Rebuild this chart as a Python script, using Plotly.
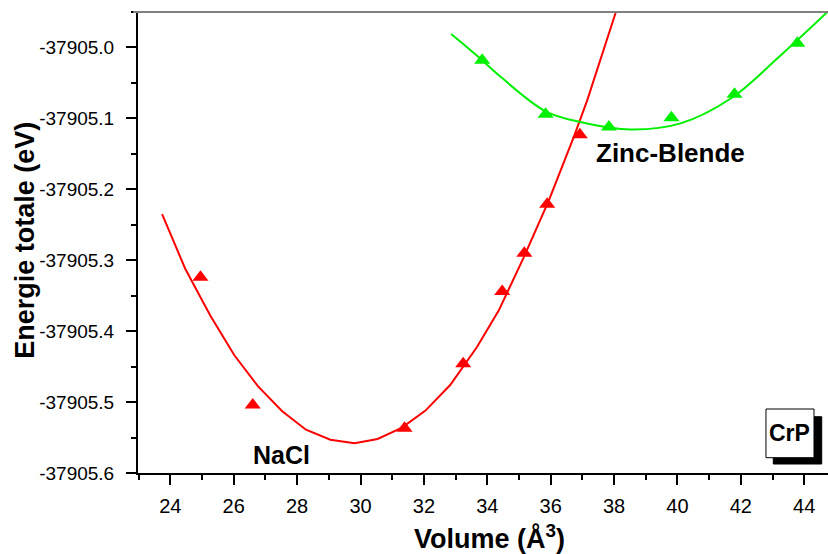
import plotly.graph_objects as go

# NaCl data points (Volume Å^3, Energy eV)
nacl_v = [24.95, 26.60, 31.39, 33.24, 34.47, 35.17, 35.89, 36.92]
nacl_e = [-37905.324, -37905.504, -37905.537, -37905.446, -37905.344, -37905.290, -37905.221, -37905.123]

# NaCl fitted curve
nacl_fit_v = [23.74, 24.47, 25.26, 26.02, 26.77, 27.53, 28.28, 29.05, 29.81, 30.54, 31.31, 32.05,
              32.83, 33.68, 34.36, 35.15, 35.94, 36.73, 37.15, 38.05]
nacl_fit_e = [-37905.235, -37905.312, -37905.378, -37905.434, -37905.478, -37905.513, -37905.539,
              -37905.553, -37905.558, -37905.552, -37905.536, -37905.512, -37905.476, -37905.422,
              -37905.371, -37905.296, -37905.216, -37905.126, -37905.075, -37904.951]

# Zinc-Blende data points
zb_v = [33.84, 35.84, 37.84, 39.81, 41.80, 43.78]
zb_e = [-37905.018, -37905.094, -37905.112, -37905.099, -37905.066, -37904.994]

# Zinc-Blende fitted curve
zb_fit_v = [32.86, 33.79, 34.31, 35.84, 36.94, 38.52, 40.10, 41.68, 43.26, 44.73]
zb_fit_e = [-37904.981, -37905.016, -37905.037, -37905.090, -37905.105, -37905.1156,
            -37905.107, -37905.072, -37905.011, -37904.950]

x_ticks = [24, 26, 28, 30, 32, 34, 36, 38, 40, 42, 44]
y_ticks = [-37905.6, -37905.5, -37905.4, -37905.3, -37905.2, -37905.1, -37905.0]
y_tick_labels = ["-37905.6", "-37905.5", "-37905.4", "-37905.3", "-37905.2", "-37905.1", "-37905.0"]

FONT = "Liberation Sans, Arial, sans-serif"
GREEN = "#00F000"

fig = go.Figure()
fig.add_trace(go.Scatter(x=nacl_fit_v, y=nacl_fit_e, mode="lines",
                         line=dict(color="#FF0000", width=2), showlegend=False))
fig.add_trace(go.Scatter(x=nacl_v, y=nacl_e, mode="markers",
                         marker=dict(symbol="triangle-up", size=14, color="#FF0000"), showlegend=False))
fig.add_trace(go.Scatter(x=zb_fit_v, y=zb_fit_e, mode="lines",
                         line=dict(color=GREEN, width=2, shape="spline"), showlegend=False))
fig.add_trace(go.Scatter(x=zb_v, y=zb_e, mode="markers",
                         marker=dict(symbol="triangle-up", size=14, color=GREEN), showlegend=False))

fig.update_layout(
    width=828, height=554,
    margin=dict(l=138, r=0, t=12, b=81),
    paper_bgcolor="white", plot_bgcolor="white",
    font=dict(family=FONT, color="black"),
    xaxis=dict(range=[22.98, 44.75], tickvals=x_ticks, ticks="outside", ticklen=10, tickwidth=1.5,
               tickcolor="black", showline=True, linecolor="black", linewidth=2, showgrid=False,
               zeroline=False, tickfont=dict(size=20, family=FONT), ticklabelstandoff=4,
               automargin=False,
               minor=dict(dtick=1, tick0=23, ticks="outside", ticklen=5, tickwidth=1.5, tickcolor="black")),
    yaxis=dict(range=[-37905.6, -37904.95], tickvals=y_ticks, ticktext=y_tick_labels,
               ticks="outside", ticklen=10, tickwidth=1.5, tickcolor="black",
               showline=True, linecolor="black", linewidth=2, showgrid=False, zeroline=False,
               tickfont=dict(size=19, family=FONT), ticklabelstandoff=8, automargin=False,
               minor=dict(dtick=0.05, tick0=-37905.6, ticks="outside", ticklen=5, tickwidth=1.5,
                          tickcolor="black")),
    shapes=[
        dict(type="line", xref="paper", yref="paper", x0=-0.007, x1=1, y0=1, y1=1,
             line=dict(color="#808080", width=2)),
        dict(type="rect", xref="paper", yref="paper", x0=0.9207, x1=0.9909, y0=0.0195, y1=0.1221,
             fillcolor="black", line=dict(color="black", width=1)),
        dict(type="rect", xref="paper", yref="paper", x0=0.9101, x1=0.9797, y0=0.0332, y1=0.1388,
             fillcolor="white", line=dict(color="black", width=1)),
    ],
    annotations=[
        dict(text="<b>Energie totale (eV)</b>", xref="paper", yref="paper", x=-0.163, y=0.505,
             xanchor="center", yanchor="middle",
             textangle=-90, showarrow=False, font=dict(size=27, family=FONT)),
        dict(text="<b>Volume (Å<sup>3</sup>)</b>", xref="paper", yref="paper", x=0.509, y=-0.139,
             xanchor="center", yanchor="middle",
             showarrow=False, font=dict(size=27, family=FONT)),
        dict(text="<b>NaCl</b>", x=27.50, y=-37905.574, showarrow=False, font=dict(size=25, family=FONT)),
        dict(text="<b>Zinc-Blende</b>", x=39.77, y=-37905.149, showarrow=False, font=dict(size=26, family=FONT)),
        dict(text="<b>CrP</b>", xref="paper", yref="paper", x=0.9449, y=0.0868,
             xanchor="center", yanchor="middle", showarrow=False,
             font=dict(size=23, family=FONT)),
    ],
)

fig.write_html("out.html", config={"displayModeBar": False},
               post_script="document.body.style.margin='0';document.body.style.overflow='hidden';")
